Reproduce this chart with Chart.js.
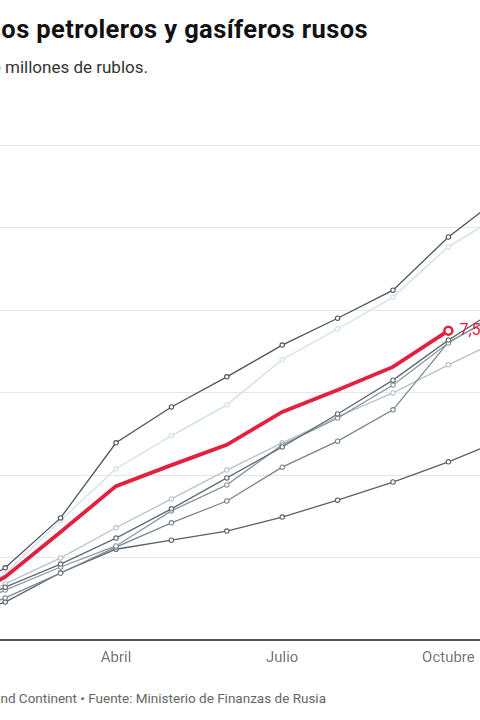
<!DOCTYPE html>
<html lang="es">
<head>
<meta charset="utf-8">
<script src="https://cdn.jsdelivr.net/npm/chart.js@4.4.1/dist/chart.umd.min.js"></script>
<style>
  html, body { margin: 0; padding: 0; background: #fff; }
  body { width: 480px; height: 720px; overflow: hidden; position: relative; font-family: Roboto, sans-serif; }
  .txt { position: absolute; white-space: nowrap; line-height: 1; }
  #title { right: 112px; top: 16.5px; font-size: 25.5px; font-weight: 700; letter-spacing: 0.4px; color: #111; }
  #subtitle { right: 332px; top: 58.7px; font-size: 17px; color: #333; }
  #footer { right: 154px; top: 691.5px; font-size: 13.5px; color: #666; }
  #wrap { position: absolute; left: -60px; top: 120px; width: 640px; height: 560px; }
</style>
</head>
<body>
<div id="title" class="txt">Ingresos petroleros y gasíferos rusos</div>
<div id="subtitle" class="txt">En millones de millones de rublos.</div>
<div id="wrap"><canvas id="chart" width="640" height="560"></canvas></div>
<div id="footer" class="txt">Gráfico: Le Grand Continent • Fuente: Ministerio de Finanzas de Rusia</div>

<script>
const months = ['Enero', 'Febrero', 'Marzo', 'Abril', 'Mayo', 'Junio', 'Julio', 'Agosto', 'Septiembre', 'Octubre', 'Noviembre', 'Diciembre'];
const tickMonths = ['Abril', 'Julio', 'Octubre'];
const yTicks = [0, 2, 4, 6, 8, 10, 12];

// acumulado, billones de rublos
const v2025 = [0.8, 1.53, 2.62, 3.73, 4.24, 4.73, 5.53, 6.06, 6.62, 7.5];
const v2022 = [0.95, 1.75, 2.96, 4.78, 5.65, 6.38, 7.15, 7.8, 8.48, 9.77, 10.8];
const v2024 = [0.8, 1.6, 2.9, 4.15, 4.95, 5.7, 6.8, 7.54, 8.31, 9.53, 10.35];
const v2019 = [0.7, 1.36, 1.99, 2.72, 3.42, 4.12, 4.78, 5.41, 5.99, 6.67, 7.32];
const v2018 = [0.65, 1.28, 1.84, 2.47, 3.18, 3.93, 4.68, 5.48, 6.3, 7.27, 8.12];
const v2021 = [0.6, 1.21, 1.77, 2.28, 3.13, 3.76, 4.73, 5.38, 6.18, 7.2, 8.0];
const v2023 = [0.45, 1.02, 1.62, 2.25, 2.84, 3.37, 4.19, 4.82, 5.58, 7.22, 7.95];
const v2020 = [0.5, 0.92, 1.63, 2.2, 2.42, 2.64, 2.98, 3.39, 3.83, 4.32, 4.87];

const red = '#e3203d';

function greyLine(label, data, color){
  return {
    label,
    data,
    borderColor: color,
    borderWidth: 1.3,
    pointRadius: 2.2,
    pointBorderWidth: 1.1,
    pointBorderColor: color,
    pointBackgroundColor: '#fff',
    tension: 0
  };
}

const lastLabel = {
  id: 'lastLabel',
  afterDatasetsDraw(chart){
    const meta = chart.getDatasetMeta(0);
    const data = chart.data.datasets[0].data;
    const pt = meta.data[data.length - 1];
    if(!pt)return;
    const ctx = chart.ctx;
    ctx.save();
    ctx.font = '16px Roboto, sans-serif';
    ctx.fillStyle = red;
    ctx.textBaseline = 'middle';
    ctx.fillText(String(data[data.length - 1]).replace('.', ','), pt.x + 11, pt.y);
    ctx.restore();
  }
};

new Chart(document.getElementById('chart'), {
  type: 'line',
  data: {
    labels: months,
    datasets: [
      {
        label: '2025',
        data: v2025,
        borderColor: red,
        borderWidth: 3.8,
        pointRadius: v2025.map((v, i) => i === v2025.length - 1 ? 4 : 0),
        pointBorderWidth: 2.5,
        pointBorderColor: red,
        pointBackgroundColor: '#fff',
        tension: 0
      },
      greyLine('2022', v2022, '#4b555c'),
      greyLine('2018', v2018, '#5f6b72'),
      greyLine('2021', v2021, '#8b979e'),
      greyLine('2023', v2023, '#78868e'),
      greyLine('2020', v2020, '#56626a'),
      greyLine('2019', v2019, '#b7c3ca'),
      greyLine('2024', v2024, '#cfdfe9')
    ]
  },
  options: {
    responsive: false,
    animation: false,
    layout: { padding: { left: 9.8, right: 20.8, top: 25, bottom: 0 } },
    plugins: {
      legend: { display: false },
      tooltip: { enabled: false }
    },
    scales: {
      x: {
        grid: { display: false, drawTicks: false },
        border: { color: '#555', width: 2 },
        ticks: {
          autoSkip: false,
          maxRotation: 0,
          padding: 9,
          color: '#777',
          font: { family: 'Roboto', size: 15 },
          callback: function(value){
            const m = this.getLabelForValue(value);
            return tickMonths.includes(m) ? m : '';
          }
        },
        afterFit: s => { s.height = 40; }
      },
      y: {
        min: 0,
        max: 12,
        grid: { color: '#e6e6e6', drawTicks: false },
        border: { display: false },
        ticks: { display: false },
        afterBuildTicks: s => { s.ticks = yTicks.map(v => ({ value: v })); },
        afterFit: s => { s.width = 0; }
      }
    }
  },
  plugins: [lastLabel]
});
</script>
</body>
</html>
